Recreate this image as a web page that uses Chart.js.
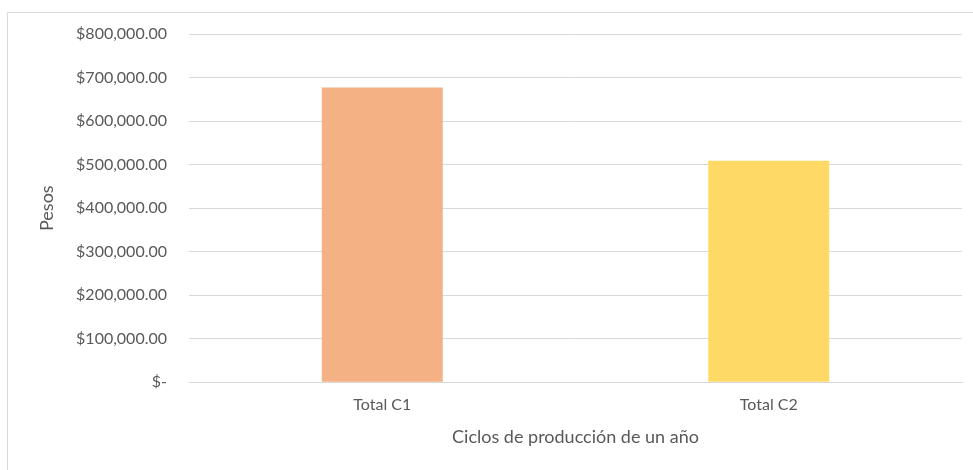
<!DOCTYPE html>
<html>
<head>
<meta charset="utf-8">
<script src="https://cdn.jsdelivr.net/npm/chart.js@4/dist/chart.umd.min.js"></script>
<style>
html,body{margin:0;padding:0;background:#fff;}
#wrap{width:973px;height:470px;position:relative;}
</style>
</head>
<body>
<div id="wrap"><canvas id="c" width="973" height="470"></canvas></div>
<script>
const categories = ["Total C1", "Total C2"];
const values = [677000, 509000];
const barColors = ["#F4B183", "#FFD966"];
const yTitle = "Pesos";
const xTitle = "Ciclos de producción de un año";

function fmt(v){
  if (v === 0) return "$-";
  return "$" + v.toLocaleString("en-US",{minimumFractionDigits:2,maximumFractionDigits:2});
}

const framePlugin = {
  id:'frame',
  beforeDraw(chart){
    const ctx = chart.ctx;
    ctx.save();
    ctx.strokeStyle = '#D9D9D9';
    ctx.lineWidth = 1;
    ctx.beginPath();
    ctx.moveTo(7.5, 470);
    ctx.lineTo(7.5, 12.5);
    ctx.lineTo(973, 12.5);
    ctx.stroke();
    ctx.restore();
  }
};

new Chart(document.getElementById('c'), {
  type:'bar',
  data:{
    labels: categories,
    datasets:[{data: values, backgroundColor: barColors, barPercentage:0.313, categoryPercentage:1}]
  },
  options:{
    responsive:false,
    animation:false,
    layout:{padding:{top:34,right:11,bottom:23,left:0}},
    plugins:{legend:{display:false},tooltip:{enabled:false}},
    scales:{
      x:{
        grid:{display:false,drawTicks:false},
        border:{display:true,color:'#D9D9D9'},
        ticks:{color:'#595959',font:{family:'Lato',size:16},padding:13},
        title:{display:true,text:xTitle,color:'#595959',font:{family:'Lato',size:18,lineHeight:1.083},padding:{top:0,bottom:0}}
      },
      y:{
        min:0,max:800000,
        afterFit(s){s.width=189;},
        grid:{color:'#D9D9D9',drawTicks:false},
        border:{display:false},
        ticks:{stepSize:100000,color:'#595959',font:{family:'Lato',size:16},padding:22,callback:(v)=>fmt(v)},
        title:{display:true,text:yTitle,color:'#595959',font:{family:'Lato',size:18},padding:{top:36,bottom:0}}
      }
    }
  },
  plugins:[framePlugin]
});
</script>
</body>
</html>
